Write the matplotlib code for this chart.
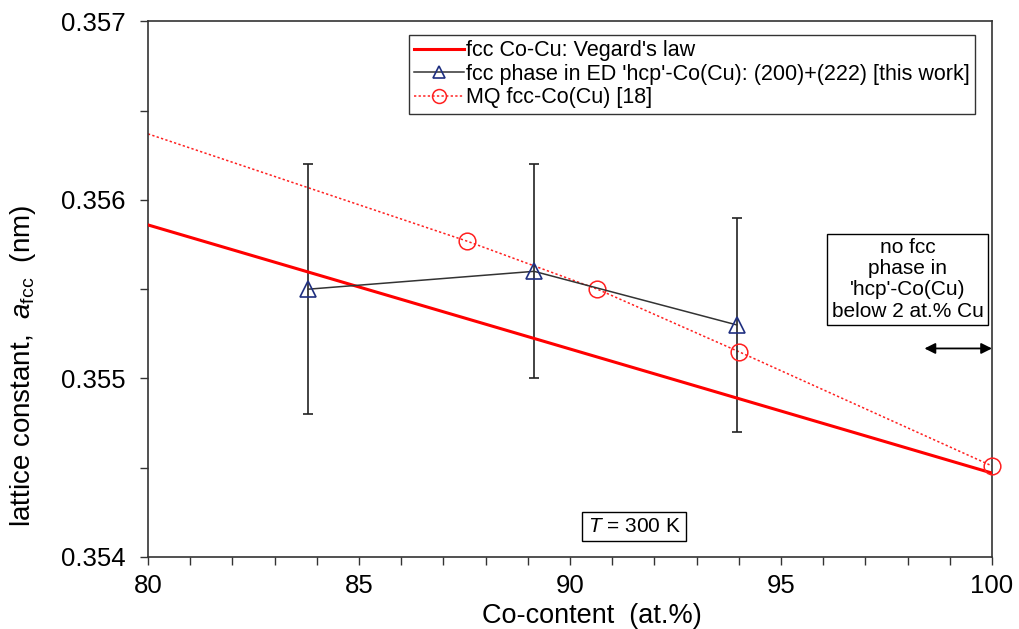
import numpy as np
import matplotlib.pyplot as plt
from matplotlib.lines import Line2D

plt.rcParams['font.family'] = ['Liberation Sans', 'DejaVu Sans']
plt.rcParams['mathtext.fontset'] = 'custom'
plt.rcParams['mathtext.rm'] = 'Liberation Sans'
plt.rcParams['mathtext.it'] = 'Liberation Sans:italic'

# Vegard's law line (fcc Co-Cu)
vegard_x = [80, 100]
vegard_y = [0.35586, 0.35447]

# fcc phase in ED 'hcp'-Co(Cu), this work
this_x = [83.8, 89.15, 93.95]
this_y = [0.3555, 0.3556, 0.3553]
this_err = [0.0007, 0.0006, 0.0006]

# MQ fcc-Co(Cu) [18] points and the dotted trend drawn through them
mq_x = [87.55, 90.65, 94.0, 100]
mq_y = [0.35577, 0.35550, 0.35515, 0.35451]
mq_trend_x = [80, 87.55, 90.65, 94.0, 100]
mq_trend_y = [0.35637, 0.35577, 0.35550, 0.35515, 0.35451]

fig = plt.figure(figsize=(10.19, 6.29), dpi=100)
ax = fig.add_axes([0.1452, 0.1145, 0.8283, 0.8515])

ax.plot(vegard_x, vegard_y, color='#ff0000', lw=2.2, zorder=3)
ax.plot(mq_trend_x, mq_trend_y, color='#ff2020', lw=1.1, ls=(0, (1.5, 1.5)), zorder=2)
ax.plot(mq_x, mq_y, ls='none', marker='o', ms=12, mfc='none', mec='#ff2020', mew=1.1,
        zorder=4, clip_on=False)

ax.errorbar(this_x, this_y, yerr=this_err, fmt='none', ecolor='#222222', elinewidth=1.2,
            capsize=3.5, capthick=1.2, zorder=2)
ax.plot(this_x, this_y, color='#333333', lw=1.1, marker='^', ms=11, mfc='none',
        mec='#1f2f80', mew=1.2, zorder=5)

handles = [
    Line2D([], [], color='#ff0000', lw=2.2),
    Line2D([], [], color='#333333', lw=1.1, marker='^', ms=9, mfc='none', mec='#1f2f80', mew=1.2),
    Line2D([], [], color='#ff2020', lw=1.1, ls=(0, (1.5, 1.5)), marker='o', ms=10, mfc='none',
           mec='#ff2020', mew=1.1),
]
labels = ["fcc Co-Cu: Vegard's law",
          "fcc phase in ED 'hcp'-Co(Cu): (200)+(222) [this work]",
          "MQ fcc-Co(Cu) [18]"]
leg = ax.legend(handles, labels, loc='upper right', bbox_to_anchor=(0.98, 0.975),
                fontsize=15.5, frameon=True, fancybox=False, handlelength=2.3,
                handletextpad=0.1, labelspacing=0.12, borderpad=0.25, borderaxespad=0)
leg.get_frame().set_edgecolor('black')
leg.get_frame().set_linewidth(1.0)

ax.text(98.0, 0.355555, "no fcc\nphase in\n'hcp'-Co(Cu)\nbelow 2 at.% Cu", ha='center', va='center',
        fontsize=15, linespacing=1.15,
        bbox=dict(boxstyle='square,pad=0.2', fc='white', ec='black', lw=1.0))
ax.annotate('', xy=(100, 0.355168), xytext=(98.4, 0.355168),
            arrowprops=dict(arrowstyle='<|-|>', color='black', lw=1.3, mutation_scale=16,
                            shrinkA=0, shrinkB=0))
ax.text(91.52, 0.35417, r"$\it{T}$ = 300 K", ha='center', va='center', fontsize=15,
        bbox=dict(boxstyle='square,pad=0.25', fc='white', ec='black', lw=1.0))

ax.set_xlim(80, 100)
ax.set_ylim(0.354, 0.357)
ax.set_xticks(np.arange(80, 101, 5))
ax.set_xticks(np.arange(80, 101, 1), minor=True)
ax.set_yticks([0.354, 0.355, 0.356, 0.357])
ax.set_yticks(np.arange(0.354, 0.35701, 0.0005), minor=True)
ax.set_yticklabels(['0.354', '0.355', '0.356', '0.357'])
ax.tick_params(which='both', direction='out', labelsize=18.5, width=1.0, color='#333333',
               length=6)
ax.tick_params(axis='y', pad=10)
ax.tick_params(axis='x', pad=6)
for s in ax.spines.values():
    s.set_color('#333333')
    s.set_linewidth(1.2)

ax.set_xlabel("Co-content  (at.%)", fontsize=19.5)
ax.xaxis.set_label_coords(0.526, -0.085)
ax.set_ylabel(r"lattice constant,  $\it{a}$$_{\rm fcc}$  (nm)", fontsize=20)
ax.yaxis.set_label_coords(-0.13, 0.356)

fig.savefig('out.png', dpi=100)
